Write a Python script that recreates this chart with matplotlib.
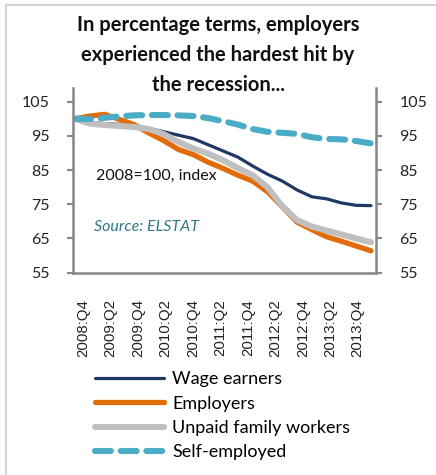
import numpy as np
import matplotlib
matplotlib.use("Agg")
import matplotlib.pyplot as plt
from matplotlib.lines import Line2D

# Quarterly index values, 2008:Q4 = 100
quarters = ["2008:Q4", "2009:Q1", "2009:Q2", "2009:Q3", "2009:Q4",
            "2010:Q1", "2010:Q2", "2010:Q3", "2010:Q4",
            "2011:Q1", "2011:Q2", "2011:Q3", "2011:Q4",
            "2012:Q1", "2012:Q2", "2012:Q3", "2012:Q4",
            "2013:Q1", "2013:Q2", "2013:Q3", "2013:Q4"]

wage_earners = [100, 99.0, 98.6, 98.4, 97.8, 97.2, 96.2, 95.2, 94.2, 92.4, 90.6,
                88.8, 86.2, 83.8, 81.8, 79.2, 77.2, 76.6, 75.4, 74.7, 74.6]
employers = [100, 100.8, 101.3, 99.8, 98.3, 95.8, 93.6, 91.0, 89.5, 87.3, 85.5,
             83.5, 81.8, 78.7, 74.3, 69.8, 67.6, 65.5, 64.2, 62.8, 61.4]
unpaid_family = [100, 98.6, 98.2, 97.9, 97.6, 97.0, 95.5, 93.2, 91.3, 89.8, 87.9,
                 85.6, 83.5, 80.0, 74.5, 70.4, 68.5, 67.3, 66.2, 65.0, 63.9]
self_employed = [100, 99.9, 100.3, 100.7, 101.0, 101.1, 101.1, 101.0, 100.8, 100.2, 99.3,
                 98.3, 97.0, 96.2, 95.9, 95.6, 94.6, 94.1, 94.0, 93.5, 92.8]

tick_labels = quarters[::2]
y_ticks = [55, 65, 75, 85, 95, 105]

title = "In percentage terms, employers\nexperienced the hardest hit by\nthe recession..."

NAVY = "#203864"
ORANGE = "#E36C0A"
GREY = "#BFBFBF"
TEAL = "#4BACC6"
SPINE = "#868686"

fig = plt.figure(figsize=(4.36, 4.75), dpi=100)
ax = fig.add_axes([73 / 436, 1 - 272.7 / 475, (376 - 73) / 436, (272.7 - 88) / 475])

x = np.arange(len(quarters))
ax.plot(x, wage_earners, color=NAVY, lw=2.3, solid_capstyle="round", label="Wage earners")
ax.plot(x, employers, color=ORANGE, lw=3.8, solid_capstyle="round", label="Employers")
ax.plot(x, unpaid_family, color=GREY, lw=4.4, solid_capstyle="round", label="Unpaid family workers")
ax.plot(x, self_employed, color=TEAL, lw=4.4, dashes=(2.6, 1.6), dash_capstyle="round",
        label="Self-employed")

ax.set_xlim(-0.14, 20.34)
ax.set_ylim(55, 109)

# y axis on both sides
ax.set_yticks(y_ticks)
ax.set_yticklabels([str(v) for v in y_ticks], fontsize=11.5, family="Lato")
ax.tick_params(axis="y", which="both", direction="out", length=4, width=1.5, color=SPINE,
               left=True, right=True, labelleft=True, labelright=True, pad=13)
for lab in ax.get_yticklabels():
    lab.set_color("#222222")

label_pos = np.linspace(0.55, 19.1, len(tick_labels))
ax.set_xticks(label_pos)
ax.set_xticklabels(tick_labels, rotation=90, fontsize=10.8, family="Liberation Sans",
                   color="#222222")
ax.tick_params(axis="x", length=0, pad=19)

for side in ("left", "right", "bottom"):
    ax.spines[side].set_color(SPINE)
    ax.spines[side].set_linewidth(1.8)
ax.spines["top"].set_visible(False)
ax.set_facecolor("none")

fig.text(96 / 436, 1 - 176 / 475, "2008=100, index", fontsize=11.5, family="Lato",
         color="#111111", va="center", ha="left")
fig.text(94 / 436, 1 - 227 / 475, "Source: ELSTAT", fontsize=11.5, family="Lato",
         style="italic", color="#31788A", va="center", ha="left")

fig.text(0.5, 1 - 55 / 475, title, ha="center", va="center", fontsize=14.5,
         family="Lato", fontweight="bold", linespacing=1.65, color="#111111")

handles, labels = ax.get_legend_handles_labels()
fig.legend(handles, labels, loc="upper left", bbox_to_anchor=(88 / 436, 1 - 364 / 475),
           frameon=False, prop={"family": "Lato", "size": 13},
           handlelength=3.8, handletextpad=0.45, labelspacing=0.46, borderaxespad=0)

# thin frame on the top and left edges
fig.add_artist(Line2D([6 / 436, 1], [1 - 4.5 / 475, 1 - 4.5 / 475], transform=fig.transFigure,
                      color="#D4D4D4", lw=1.6))
fig.add_artist(Line2D([6 / 436, 6 / 436], [0, 1 - 4.5 / 475], transform=fig.transFigure,
                      color="#D4D4D4", lw=1.6))

fig.savefig("out.png", dpi=100)
